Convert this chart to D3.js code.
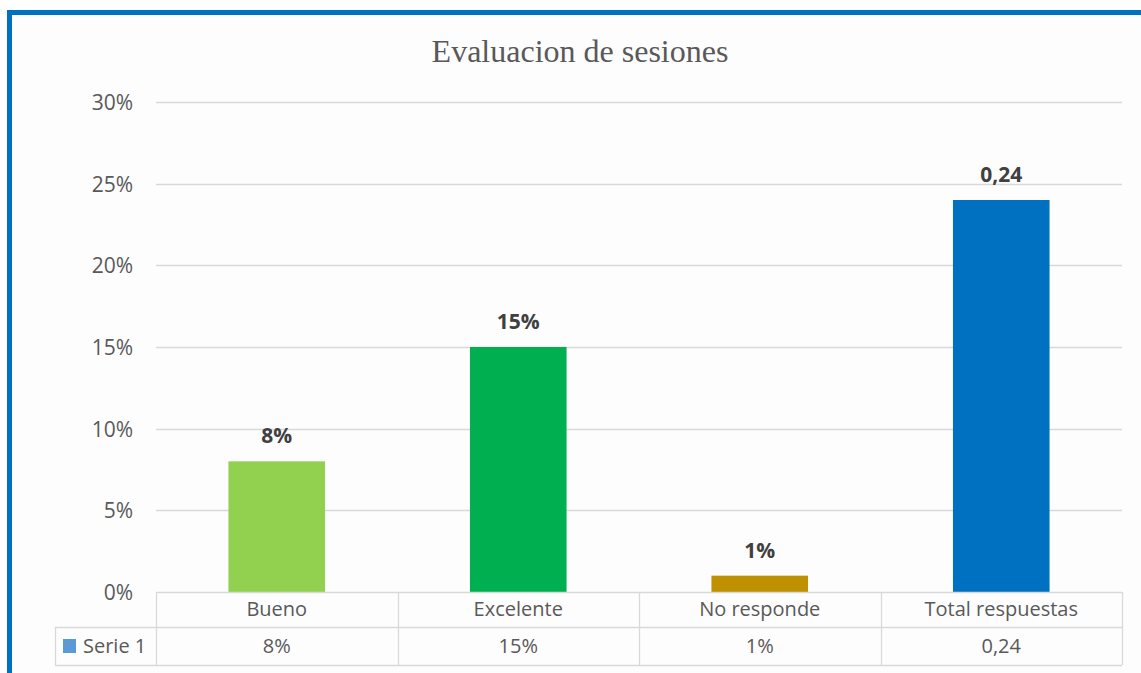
<!DOCTYPE html>
<html>
<head>
<meta charset="utf-8">
<script src="https://cdn.jsdelivr.net/npm/d3@7"></script>
<style>
  html, body { margin: 0; padding: 0; background: #ffffff; }
  svg { display: block; }
</style>
</head>
<body>
<div id="chart"></div>
<script>
// chart data
var categories = ["Bueno", "Excelente", "No responde", "Total respuestas"];
var values = [0.08, 0.15, 0.01, 0.24];
var valueLabels = ["8%", "15%", "1%", "0,24"];
var barColors = ["#92d050", "#00b050", "#bf9000", "#0070c0"];
var yTicks = [0, 0.05, 0.10, 0.15, 0.20, 0.25, 0.30];
var seriesName = "Serie 1";
var title = "Evaluacion de sesiones";

var width = 1141,
    height = 673;

var svg = d3.select("#chart").append("svg")
    .attr("width", width)
    .attr("height", height);

// frame (cut off at right and bottom)
svg.append("rect")
    .attr("x", 9.5).attr("y", 12.5)
    .attr("width", width + 20).attr("height", height + 20)
    .attr("fill", "#fdfdfd")
    .attr("stroke", "#0070c0")
    .attr("stroke-width", 5);

// title
svg.append("text")
    .attr("x", 580).attr("y", 62)
    .attr("text-anchor", "middle")
    .style("font-family", "'Liberation Serif', 'Times New Roman', serif")
    .style("font-size", "32px")
    .style("fill", "#595959")
    .text(title);

var plotLeft = 156, plotRight = 1122;

var x = d3.scaleBand()
    .domain(categories)
    .range([plotLeft, plotRight])
    .paddingInner(0.6)
    .paddingOuter(0.3);

var xCol = d3.scaleBand()
    .domain(categories)
    .range([plotLeft, plotRight]);

var y = d3.scaleLinear()
    .domain([0, 0.30])
    .range([592, 102]);

var font = "'Open Sans', 'Noto Sans', sans-serif";

// gridlines
svg.append("g").selectAll("line")
    .data(yTicks.filter(function(d) { return d > 0; }))
  .enter().append("line")
    .attr("x1", plotLeft).attr("x2", plotRight)
    .attr("y1", function(d) { return Math.round(y(d)) + 0.5; })
    .attr("y2", function(d) { return Math.round(y(d)) + 0.5; })
    .attr("stroke", "#d9d9d9")
    .attr("stroke-width", 1.3);

// y axis labels
svg.append("g").selectAll("text")
    .data(yTicks)
  .enter().append("text")
    .attr("x", 133)
    .attr("y", function(d) { return y(d) + 8; })
    .attr("text-anchor", "end")
    .style("font-family", font)
    .style("font-size", "21px")
    .style("fill", "#595959")
    .text(function(d) { return d3.format(".0%")(d); });

// bars
svg.append("g").selectAll("rect")
    .data(values)
  .enter().append("rect")
    .attr("x", function(d, i) { return x(categories[i]); })
    .attr("y", function(d) { return y(d); })
    .attr("width", x.bandwidth())
    .attr("height", function(d) { return y(0) - y(d); })
    .attr("fill", function(d, i) { return barColors[i]; });

// data labels
svg.append("g").selectAll("text")
    .data(values)
  .enter().append("text")
    .attr("x", function(d, i) { return x(categories[i]) + x.bandwidth() / 2; })
    .attr("y", function(d) { return y(d) - 18; })
    .attr("text-anchor", "middle")
    .style("font-family", font)
    .style("font-size", "21px")
    .style("font-weight", "bold")
    .style("fill", "#404040")
    .text(function(d, i) { return valueLabels[i]; });

// data table
var rowTop = 592, rowMid = 627, rowBottom = 665, legendLeft = 55;
var table = svg.append("g")
    .attr("stroke", "#d9d9d9")
    .attr("stroke-width", 1.3);

table.append("line")
    .attr("x1", plotLeft).attr("x2", plotRight)
    .attr("y1", rowTop + 0.5).attr("y2", rowTop + 0.5);
table.append("line")
    .attr("x1", legendLeft).attr("x2", plotRight)
    .attr("y1", rowMid + 0.5).attr("y2", rowMid + 0.5);
table.append("line")
    .attr("x1", legendLeft).attr("x2", plotRight)
    .attr("y1", rowBottom + 0.5).attr("y2", rowBottom + 0.5);
table.append("line")
    .attr("x1", legendLeft + 0.5).attr("x2", legendLeft + 0.5)
    .attr("y1", rowMid).attr("y2", rowBottom);

table.selectAll(".col")
    .data(categories.map(function(c) { return xCol(c); }).concat([plotRight]))
  .enter().append("line")
    .attr("class", "col")
    .attr("x1", function(d) { return Math.round(d) + 0.5; })
    .attr("x2", function(d) { return Math.round(d) + 0.5; })
    .attr("y1", rowTop).attr("y2", rowBottom);

// category row
svg.append("g").selectAll("text")
    .data(categories)
  .enter().append("text")
    .attr("x", function(d) { return xCol(d) + xCol.bandwidth() / 2; })
    .attr("y", 616)
    .attr("text-anchor", "middle")
    .style("font-family", font)
    .style("font-size", "20px")
    .style("fill", "#595959")
    .text(function(d) { return d; });

// value row
svg.append("g").selectAll("text")
    .data(valueLabels)
  .enter().append("text")
    .attr("x", function(d, i) { return xCol(categories[i]) + xCol.bandwidth() / 2; })
    .attr("y", 653)
    .attr("text-anchor", "middle")
    .style("font-family", font)
    .style("font-size", "20px")
    .style("fill", "#595959")
    .text(function(d) { return d; });

// legend key
svg.append("rect")
    .attr("x", 63).attr("y", 639)
    .attr("width", 13).attr("height", 14)
    .attr("fill", "#5b9bd5");
svg.append("text")
    .attr("x", 83).attr("y", 653)
    .style("font-family", font)
    .style("font-size", "20px")
    .style("fill", "#595959")
    .text(seriesName);
</script>
</body>
</html>
